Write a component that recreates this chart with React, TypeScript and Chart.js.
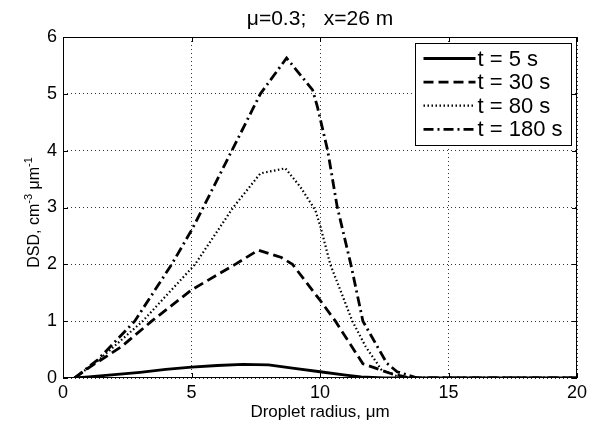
import React, { useEffect, useRef } from "react";
import { Chart, registerables } from "chart.js";

Chart.register(...registerables);

// ---- text ----
const TITLE = "μ=0.3;   x=26 m";
const X_TITLE = "Droplet radius, μm";
const Y_TITLE_PARTS = [
  { text: "DSD, cm", sup: false },
  { text: "-3", sup: true },
  { text: " μm", sup: false },
  { text: "-1", sup: true },
];
const seriesLabels = ["t = 5 s", "t = 30 s", "t = 80 s", "t = 180 s"];

// ---- data ----
const radius5 = [0.45, 1, 2, 3, 4, 5, 6, 7, 8, 9, 10, 11, 11.6, 12.5, 20];
const dsd5 = [0, 0.02, 0.06, 0.1, 0.15, 0.19, 0.22, 0.24, 0.23, 0.17, 0.11, 0.05, 0.02, 0, 0];

const radius30 = [0.45, 1.0, 2.27, 3.45, 5, 6.7, 7.6, 8.5, 8.93, 10, 10.6, 11.67, 12.75, 13.5, 20];
const dsd30 = [0, 0.18, 0.55, 1.0, 1.55, 2.0, 2.25, 2.12, 2.0, 1.37, 1.0, 0.25, 0.08, 0, 0];

const radius80 = [0.45, 1.35, 3.1, 5.14, 6.62, 7.68, 8.65, 9.24, 9.82, 10.02, 10.4, 11.26, 11.78, 12.4, 13.0, 13.5, 20];
const dsd80 = [0, 0.3, 1.0, 2.0, 3.0, 3.6, 3.69, 3.36, 2.95, 2.66, 2.0, 1.0, 0.55, 0.14, 0.03, 0, 0];

const radius180 = [0.45, 1.35, 2.79, 4.23, 5, 5.4, 6.57, 7.68, 8.7, 9.71, 9.9, 10.3, 10.67, 11.2, 11.67, 12.6, 13.0, 13.8, 20];
const dsd180 = [0, 0.32, 1.0, 2.0, 2.6, 2.95, 4.0, 5.0, 5.63, 5.07, 4.77, 4.0, 3.01, 2.0, 1.0, 0.26, 0.11, 0, 0];

const xTickValues = [0, 5, 10, 15, 20];
const yTickValues = [0, 1, 2, 3, 4, 5, 6];

const FONT = "'Liberation Sans', Arial, Helvetica, sans-serif";

const lineStyles = [
  { width: 2.8, dash: [] as number[] },
  { width: 2.8, dash: [10, 5] },
  { width: 2.2, dash: [1.5, 2.5] },
  { width: 2.8, dash: [10, 4, 2, 4] },
];

const decorPlugin = {
  id: "decor",
  afterDraw(chart: any) {
    const ctx = chart.ctx as CanvasRenderingContext2D;
    const a = chart.chartArea;
    const xs = chart.scales.x;
    const ys = chart.scales.y;
    ctx.save();
    // box
    ctx.strokeStyle = "#000";
    ctx.lineWidth = 1;
    ctx.setLineDash([]);
    ctx.strokeRect(Math.round(a.left) + 0.5, Math.round(a.top) + 0.5, Math.round(a.right - a.left) - 1, Math.round(a.bottom - a.top) - 1);
    // inward ticks
    const tl = 5;
    ctx.beginPath();
    xTickValues.forEach((v) => {
      const px = Math.round(xs.getPixelForValue(v)) + 0.5;
      ctx.moveTo(px, a.bottom);
      ctx.lineTo(px, a.bottom - tl);
      ctx.moveTo(px, a.top);
      ctx.lineTo(px, a.top + tl);
    });
    yTickValues.forEach((v) => {
      const py = Math.round(ys.getPixelForValue(v)) + 0.5;
      ctx.moveTo(a.left, py);
      ctx.lineTo(a.left + tl, py);
      ctx.moveTo(a.right, py);
      ctx.lineTo(a.right - tl, py);
    });
    ctx.stroke();

    // legend
    const bw = 156, bh = 102;
    const bx = Math.round(a.right - 6 - bw) + 0.5;
    const by = Math.round(a.top + 6) + 0.5;
    ctx.fillStyle = "#fff";
    ctx.fillRect(bx, by, bw, bh);
    ctx.strokeStyle = "#000";
    ctx.lineWidth = 1;
    ctx.strokeRect(bx, by, bw, bh);
    ctx.font = `22px ${FONT}`;
    ctx.textBaseline = "middle";
    ctx.textAlign = "left";
    chart.data.datasets.forEach((ds: any, i: number) => {
      const ry = by + 15 + i * 23.6;
      ctx.save();
      ctx.strokeStyle = "#000";
      ctx.lineWidth = ds.borderWidth;
      ctx.setLineDash(ds.borderDash || []);
      ctx.beginPath();
      ctx.moveTo(bx + 8, ry);
      ctx.lineTo(bx + 60, ry);
      ctx.stroke();
      ctx.restore();
      ctx.fillStyle = "#000";
      ctx.fillText(ds.label, bx + 62, ry + 1);
    });

    // title
    const cx = (a.left + a.right) / 2;
    ctx.fillStyle = "#000";
    ctx.textAlign = "center";
    ctx.textBaseline = "alphabetic";
    ctx.font = `21px ${FONT}`;
    ctx.fillText(TITLE, cx, 25);
    // x title
    ctx.font = `17px ${FONT}`;
    ctx.fillText(X_TITLE, cx, 416.5);
    // y title with superscripts
    const mainFont = `16px ${FONT}`;
    const supFont = `11px ${FONT}`;
    let total = 0;
    Y_TITLE_PARTS.forEach((p) => {
      ctx.font = p.sup ? supFont : mainFont;
      total += ctx.measureText(p.text).width;
    });
    ctx.translate(38.5, (a.top + a.bottom) / 2 + 5);
    ctx.rotate(-Math.PI / 2);
    ctx.textAlign = "left";
    let ox = -total / 2;
    Y_TITLE_PARTS.forEach((p) => {
      ctx.font = p.sup ? supFont : mainFont;
      ctx.fillText(p.text, ox, p.sup ? -7 : 0);
      ox += ctx.measureText(p.text).width;
    });
    ctx.restore();
  },
};

export default function App() {
  const ref = useRef<HTMLCanvasElement | null>(null);
  useEffect(() => {
    if (!ref.current) return;
    const series = [
      [radius5, dsd5],
      [radius30, dsd30],
      [radius80, dsd80],
      [radius180, dsd180],
    ];
    const datasets = series.map(([rx, ry], i) => ({
      label: seriesLabels[i],
      data: rx.map((r, j) => ({ x: r, y: ry[j] })),
      borderColor: "#000",
      backgroundColor: "#000",
      borderWidth: lineStyles[i].width,
      borderDash: lineStyles[i].dash,
      borderCapStyle: "butt" as const,
      pointRadius: 0,
      tension: 0,
      fill: false,
    }));
    const tickFont = { family: FONT, size: 18 };
    const chart = new Chart(ref.current, {
      type: "line",
      data: { datasets },
      options: {
        animation: false,
        responsive: false,
        devicePixelRatio: 1,
        layout: { padding: { top: 37, right: 21, left: 0, bottom: 0 } },
        plugins: { legend: { display: false }, tooltip: { enabled: false }, title: { display: false } },
        scales: {
          x: {
            type: "linear",
            min: 0,
            max: 20,
            afterBuildTicks: (s: any) => {
              s.ticks = xTickValues.map((v) => ({ value: v }));
            },
            afterFit: (s: any) => {
              s.height = 48;
            },
            grid: { color: "rgba(0,0,0,0.8)", lineWidth: 1, drawTicks: false },
            border: { display: false, dash: [1, 3] },
            ticks: { padding: 4, font: tickFont, color: "#000", maxRotation: 0, autoSkip: false },
          },
          y: {
            type: "linear",
            min: 0,
            max: 6,
            afterBuildTicks: (s: any) => {
              s.ticks = yTickValues.map((v) => ({ value: v }));
            },
            afterFit: (s: any) => {
              s.width = 63;
            },
            grid: { color: "rgba(0,0,0,0.8)", lineWidth: 1, drawTicks: false },
            border: { display: false, dash: [1, 3] },
            ticks: { padding: 6, font: tickFont, color: "#000", autoSkip: false },
          },
        },
      },
      plugins: [decorPlugin],
    } as any);
    return () => chart.destroy();
  }, []);
  return (
    <div style={{ position: "fixed", left: 0, top: 0, width: 598, height: 426, background: "#fff" }}>
      <canvas ref={ref} width={598} height={426} style={{ display: "block" }} />
    </div>
  );
}
